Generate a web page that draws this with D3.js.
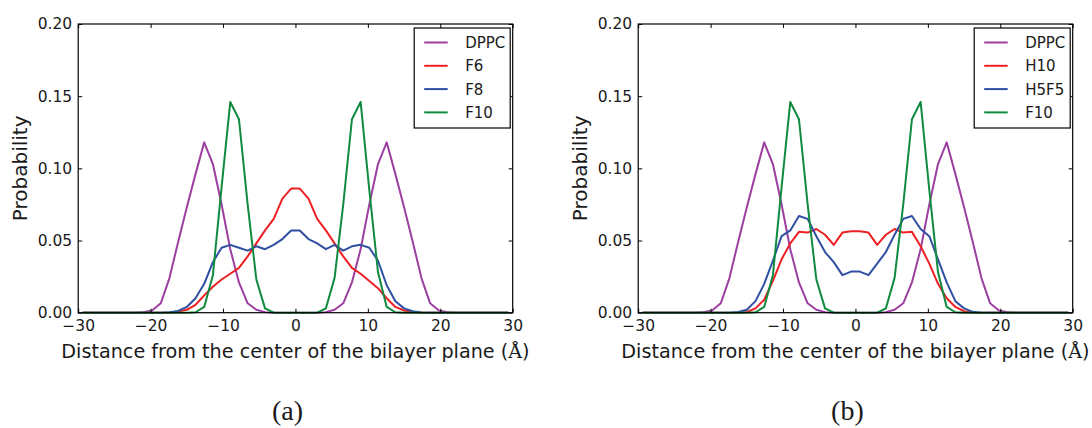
<!DOCTYPE html>
<html>
<head>
<meta charset="utf-8">
<script src="https://cdn.jsdelivr.net/npm/d3@7"></script>
<style>
  body { margin: 0; background: #fff; }
  text { font-family: "DejaVu Sans", sans-serif; fill: #1a1a1a; }
</style>
</head>
<body>
<div id="chart"></div>
<script>
// bin centres (Å)
const binCenters = [-29.4, -28.2, -27.0, -25.8, -24.6, -23.4, -22.2, -21.0, -19.8, -18.6,
  -17.4, -16.2, -15.0, -13.8, -12.6, -11.4, -10.2, -9.0, -7.8, -6.6,
  -5.4, -4.2, -3.0, -1.8, -0.6, 0.6, 1.8, 3.0, 4.2, 5.4,
  6.6, 7.8, 9.0, 10.2, 11.4, 12.6, 13.8, 15.0, 16.2, 17.4,
  18.6, 19.8, 21.0, 22.2, 23.4, 24.6, 25.8, 27.0, 28.2, 29.4];

const dppc = [0, 0, 0, 0, 0, 0, 0, 0.0003, 0.0015, 0.0065,
  0.024, 0.049, 0.073, 0.096, 0.118, 0.103, 0.075, 0.044, 0.021, 0.0065,
  0.002, 0.0004, 0, 0, 0, 0, 0, 0, 0.0004, 0.002,
  0.0065, 0.021, 0.044, 0.075, 0.103, 0.118, 0.096, 0.073, 0.049, 0.024,
  0.0065, 0.0015, 0.0003, 0, 0, 0, 0, 0, 0, 0];

const f6 = [0, 0, 0, 0, 0, 0, 0, 0, 0, 0,
  0.0002, 0.0008, 0.002, 0.0055, 0.012, 0.018, 0.023, 0.027, 0.031, 0.039,
  0.048, 0.057, 0.065, 0.079, 0.086, 0.086, 0.079, 0.065, 0.057, 0.048,
  0.039, 0.031, 0.027, 0.022, 0.017, 0.010, 0.004, 0.0015, 0.0005, 0.0001,
  0, 0, 0, 0, 0, 0, 0, 0, 0, 0];

const f8 = [0, 0, 0, 0, 0, 0, 0, 0, 0, 0,
  0.0003, 0.0012, 0.004, 0.010, 0.020, 0.035, 0.045, 0.047, 0.045, 0.043,
  0.046, 0.044, 0.047, 0.051, 0.057, 0.057, 0.051, 0.048, 0.044, 0.047,
  0.043, 0.046, 0.047, 0.045, 0.036, 0.019, 0.008, 0.003, 0.001, 0.0002,
  0, 0, 0, 0, 0, 0, 0, 0, 0, 0];

const f10 = [0, 0, 0, 0, 0, 0, 0, 0, 0, 0,
  0, 0, 0, 0.0003, 0.004, 0.026, 0.087, 0.146, 0.134, 0.075,
  0.023, 0.003, 0, 0, 0, 0, 0, 0, 0.003, 0.024,
  0.075, 0.134, 0.146, 0.085, 0.028, 0.004, 0.0003, 0, 0, 0,
  0, 0, 0, 0, 0, 0, 0, 0, 0, 0];

const h10 = [0, 0, 0, 0, 0, 0, 0, 0, 0, 0,
  0, 0, 0.0005, 0.003, 0.009, 0.022, 0.037, 0.048, 0.056, 0.0555,
  0.058, 0.054, 0.047, 0.0555, 0.0565, 0.0565, 0.0555, 0.047, 0.054, 0.058,
  0.0555, 0.056, 0.046, 0.034, 0.020, 0.010, 0.004, 0.001, 0.0002, 0,
  0, 0, 0, 0, 0, 0, 0, 0, 0, 0];

const h5f5 = [0, 0, 0, 0, 0, 0, 0, 0, 0, 0,
  0, 0.0005, 0.002, 0.008, 0.020, 0.036, 0.053, 0.057, 0.067, 0.065,
  0.053, 0.042, 0.035, 0.026, 0.0285, 0.0285, 0.026, 0.034, 0.042, 0.054,
  0.065, 0.067, 0.058, 0.053, 0.037, 0.021, 0.008, 0.003, 0.0006, 0,
  0, 0, 0, 0, 0, 0, 0, 0, 0, 0];

const xTicks = [-30, -20, -10, 0, 10, 20, 30];
const yTicks = [0, 0.05, 0.10, 0.15, 0.20];

const colors = ["#9c3fa1", "#ee2024", "#2f4fa3", "#0f8a3f"];

const W = 1092, H = 428;
const svg = d3.select("#chart").append("svg")
  .attr("width", W)
  .attr("height", H);

function drawPanel(left, names, series, caption) {
  const width = 434.5, height = 288.7, top = 24;

  const g = svg.append("g")
    .attr("transform", `translate(${left},${top})`);

  const x = d3.scaleLinear().domain([-30, 30]).range([0, width]);
  const y = d3.scaleLinear().domain([0, 0.2]).range([height, 0]);

  // lines
  const line = d3.line()
    .x((d, i) => x(binCenters[i]))
    .y(d => y(d));

  series.forEach((s, k) => {
    g.append("path")
      .datum(s)
      .attr("fill", "none")
      .attr("stroke", colors[k])
      .attr("stroke-width", 2)
      .attr("stroke-linejoin", "round")
      .attr("d", line);
  });

  // axes (ticks pointing inward, on all four sides)
  const xb = g.append("g")
    .attr("transform", `translate(0,${height})`)
    .call(d3.axisBottom(x).tickValues(xTicks).tickSize(-4).tickSizeOuter(0).tickPadding(7));
  g.append("g")
    .call(d3.axisTop(x).tickValues(xTicks).tickSize(-4).tickSizeOuter(0).tickFormat(""));
  const yl = g.append("g")
    .call(d3.axisLeft(y).tickValues(yTicks).tickSize(-4).tickSizeOuter(0).tickPadding(6)
      .tickFormat(d3.format(".2f")));
  g.append("g")
    .attr("transform", `translate(${width},0)`)
    .call(d3.axisRight(y).tickValues(yTicks).tickSize(-4).tickSizeOuter(0).tickFormat(""));

  g.selectAll(".domain").remove();
  g.selectAll(".tick line").attr("stroke", "#000");
  xb.selectAll("text").style("font-size", "15.5px").attr("fill", "#1a1a1a");
  yl.selectAll("text").style("font-size", "15.5px").attr("fill", "#1a1a1a");

  // frame
  g.append("rect")
    .attr("width", width)
    .attr("height", height)
    .attr("fill", "none")
    .attr("stroke", "#000")
    .attr("stroke-width", 1.2);

  // axis labels
  const xl = g.append("text")
    .attr("x", width / 2)
    .attr("y", height + 45)
    .attr("text-anchor", "middle")
    .style("font-size", "19.2px");
  xl.append("tspan").text("Distance from the center of the bilayer plane (");
  xl.append("tspan").style("font-family", "'DejaVu Serif', serif").text("Å");
  xl.append("tspan").text(")");

  g.append("text")
    .attr("transform", `translate(-51,${height / 2}) rotate(-90)`)
    .attr("text-anchor", "middle")
    .style("font-size", "20px")
    .text("Probability");

  // legend
  const boxW = 96;
  const lg = g.append("g")
    .attr("transform", `translate(${width - boxW - 2.5},4)`);
  lg.append("rect")
    .attr("width", boxW)
    .attr("height", 100)
    .attr("fill", "#fff")
    .attr("stroke", "#000")
    .attr("stroke-width", 1.2);
  names.forEach((n, k) => {
    const ly = 14.5 + k * 23.3;
    lg.append("line")
      .attr("x1", 10).attr("x2", 33.5)
      .attr("y1", ly).attr("y2", ly)
      .attr("stroke", colors[k])
      .attr("stroke-width", 2);
    lg.append("text")
      .attr("x", 51)
      .attr("y", ly)
      .attr("dy", "0.36em")
      .style("font-size", "15px")
      .text(n);
  });

  // panel caption
  svg.append("text")
    .attr("x", left + width / 2 - 8)
    .attr("y", 420)
    .attr("text-anchor", "middle")
    .style("font-family", "'Liberation Serif', serif")
    .style("font-size", "28px")
    .text(caption);
}

drawPanel(78.2, ["DPPC", "F6", "F8", "F10"], [dppc, f6, f8, f10], "(a)");
drawPanel(638.2, ["DPPC", "H10", "H5F5", "F10"], [dppc, h10, h5f5, f10], "(b)");
</script>
</body>
</html>
